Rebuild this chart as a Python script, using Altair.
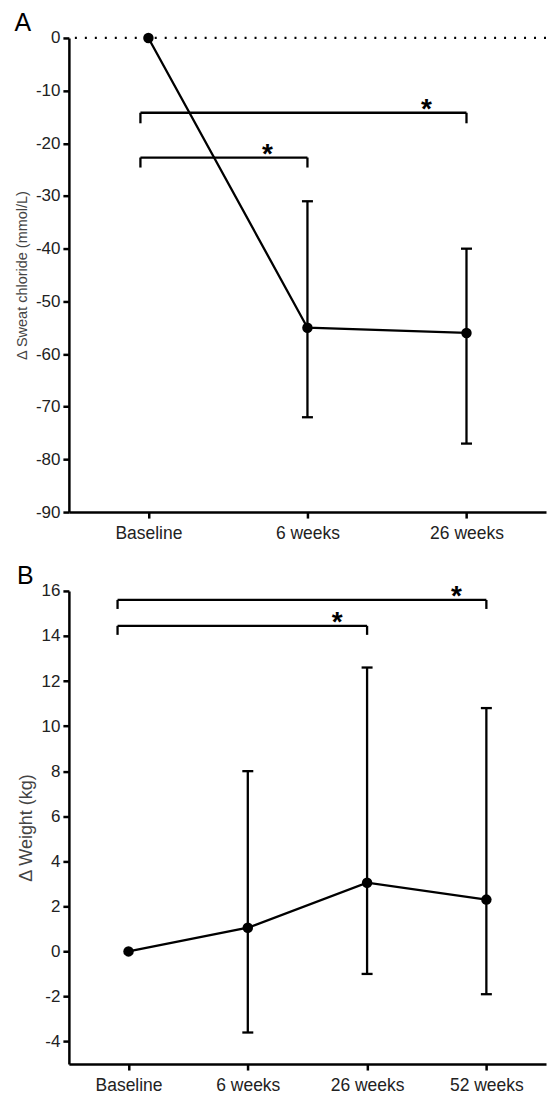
import altair as alt
import pandas as pd

FONT = "Liberation Sans"

# ---------------- Panel A data ----------------
cats_a = ["Baseline", "6 weeks", "26 weeks"]
mean_a = [0, -55, -56]
err_cats_a = ["6 weeks", "26 weeks"]
err_lo_a = [-72, -77]
err_hi_a = [-31, -40]
br_start_a = ["Baseline", "Baseline"]
br_end_a = ["26 weeks", "6 weeks"]
br_level_a = [-14.2, -22.7]
br_drop_a = [-16.2, -24.6]
yticks_a = [0, -10, -20, -30, -40, -50, -60, -70, -80, -90]

# ---------------- Panel B data ----------------
cats_b = ["Baseline", "6 weeks", "26 weeks", "52 weeks"]
mean_b = [0, 1.05, 3.05, 2.3]
err_cats_b = ["6 weeks", "26 weeks", "52 weeks"]
err_lo_b = [-3.6, -1.0, -1.9]
err_hi_b = [8.0, 12.6, 10.8]
br_start_b = ["Baseline", "Baseline"]
br_end_b = ["52 weeks", "26 weeks"]
br_level_b = [15.6, 14.45]
br_drop_b = [15.2, 14.05]
yticks_b = [16, 14, 12, 10, 8, 6, 4, 2, 0, -2, -4]

SW = 2.3


def ptitle(letter):
    return alt.TitleParams(letter, anchor="start", frame="bounds", fontSize=25,
                           fontWeight="normal", font=FONT, color="black", offset=-7)


def panel(cats, mean, ecats, elo, ehi, bs, be, bl, bd, domain, ticks,
          ytitle, title_size, left_off, star_dx):
    xscale = alt.Scale(type="point", domain=cats, padding=0.5)
    yscale = alt.Scale(domain=domain, nice=False, zero=False)
    xaxis = alt.Axis(title=None, labelAngle=0, domainWidth=2.5, domainColor="black",
                     tickColor="black", tickWidth=2.5, tickSize=6, labelFontSize=17.5,
                     labelPadding=6, labelColor="#222", labelFont=FONT, grid=False)
    yaxis = alt.Axis(title=ytitle, values=ticks, labelExpr="'' + datum.value",
                     domainWidth=2.5, domainColor="black",
                     tickColor="black", tickWidth=2.5, tickSize=6, labelFontSize=17,
                     labelPadding=3, labelColor="#222", labelFont=FONT, grid=False,
                     titleFont=FONT, titleFontSize=title_size, titleFontWeight="normal",
                     titleColor="#444", titlePadding=6)

    def X(f):
        return alt.X(f + ":N", scale=xscale, axis=xaxis, sort=cats)

    def Y(f):
        return alt.Y(f + ":Q", scale=yscale, axis=yaxis)

    main = pd.DataFrame({"cat": cats, "v": mean})
    err = pd.DataFrame({"cat": ecats, "v": elo, "v2": ehi})
    br = pd.DataFrame({"cat": bs, "cat2": be, "v": bl, "v2": bd})
    br_left = pd.DataFrame({"cat": bs, "v": bl, "v2": bd})
    br_right = pd.DataFrame({"cat": be, "v": bl, "v2": bd})

    line = alt.Chart(main).mark_line(color="black", strokeWidth=SW).encode(x=X("cat"), y=Y("v"))
    pts = alt.Chart(main).mark_circle(color="black", size=110, opacity=1).encode(x=X("cat"), y=Y("v"))
    ebar = alt.Chart(err).mark_rule(color="black", strokeWidth=SW).encode(
        x=X("cat"), y=Y("v"), y2=alt.Y2("v2"))
    cap_lo = alt.Chart(err).mark_tick(color="black", thickness=SW, size=11, opacity=1).encode(
        x=X("cat"), y=Y("v"))
    cap_hi = alt.Chart(err).mark_tick(color="black", thickness=SW, size=11, opacity=1).encode(
        x=X("cat"), y=Y("v2"))
    hbr = alt.Chart(br).mark_rule(color="black", strokeWidth=SW, xOffset=left_off).encode(
        x=X("cat"), x2=alt.X2("cat2"), y=Y("v"))
    lbr = alt.Chart(br_left).mark_rule(color="black", strokeWidth=SW, xOffset=left_off).encode(
        x=X("cat"), y=Y("v"), y2=alt.Y2("v2"))
    rbr = alt.Chart(br_right).mark_rule(color="black", strokeWidth=SW).encode(
        x=X("cat"), y=Y("v"), y2=alt.Y2("v2"))
    stars = alt.Chart(br_right).mark_text(text="*", fontSize=28, font=FONT, fontWeight="bold",
                                          dx=star_dx, dy=5, color="black",
                                          baseline="alphabetic").encode(
        x=X("cat"), y=Y("v"))

    return [line, ebar, cap_lo, cap_hi, hbr, lbr, rbr, stars, pts]


layers_a = panel(cats_a, mean_a, err_cats_a, err_lo_a, err_hi_a, br_start_a, br_end_a,
                 br_level_a, br_drop_a, [-90, 0], yticks_a, "Δ Sweat chloride (mmol/L)", 14.5,
                 -8, -40)
zero = alt.Chart(pd.DataFrame({"v": [0]})).mark_rule(
    color="black", strokeWidth=2.2, strokeDash=[2, 8]).encode(
    y=alt.Y("v:Q", scale=alt.Scale(domain=[-90, 0], nice=False, zero=False)))
a = alt.layer(zero, *layers_a).properties(width=478, height=475, title=ptitle("A"))

layers_b = panel(cats_b, mean_b, err_cats_b, err_lo_b, err_hi_b, br_start_b, br_end_b,
                 br_level_b, br_drop_b, [-5, 16], yticks_b, "Δ Weight (kg)", 18,
                 -11, -30)
b = alt.layer(*layers_b).properties(width=478, height=474, title=ptitle("B"))

chart = alt.vconcat(a, b, spacing=22).properties(
    padding={"left": 6, "top": 2, "right": 0, "bottom": 0}
).configure_view(stroke=None)

chart.save("out.html", embed_options={"renderer": "svg", "actions": False})
